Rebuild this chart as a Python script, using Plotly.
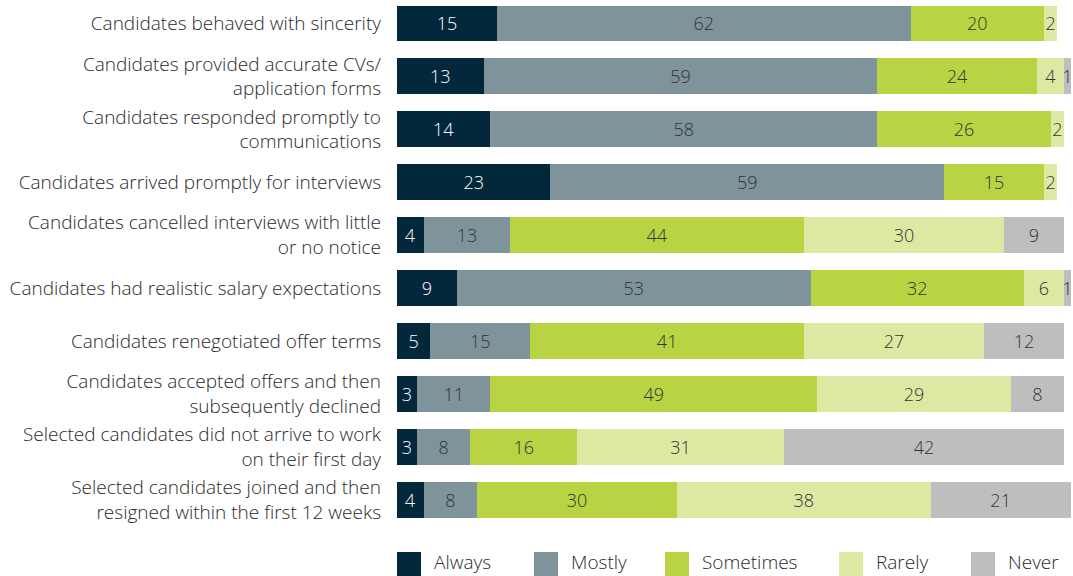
import plotly.graph_objects as go

categories = [
    "Candidates behaved with sincerity",
    "Candidates provided accurate CVs/<br>application forms",
    "Candidates responded promptly to<br>communications",
    "Candidates arrived promptly for interviews",
    "Candidates cancelled interviews with little<br>or no notice",
    "Candidates had realistic salary expectations",
    "Candidates renegotiated offer terms",
    "Candidates accepted offers and then<br>subsequently declined",
    "Selected candidates did not arrive to work<br>on their first day",
    "Selected candidates joined and then<br>resigned within the first 12 weeks",
]

always = [15, 13, 14, 23, 4, 9, 5, 3, 3, 4]
mostly = [62, 59, 58, 59, 13, 53, 15, 11, 8, 8]
sometimes = [20, 24, 26, 15, 44, 32, 41, 49, 16, 30]
rarely = [2, 4, 2, 2, 30, 6, 27, 29, 31, 38]
never = [0, 1, 0, 0, 9, 1, 12, 8, 42, 21]

series_names = ["Always", "Mostly", "Sometimes", "Rarely", "Never"]
series_vals = [always, mostly, sometimes, rarely, never]
colors = ["#03283c", "#7f939b", "#b8d443", "#dde9a3", "#bebebe"]
text_colors = ["#ffffff", "#333333", "#333333", "#333333", "#333333"]

FONT = "Open Sans"
FS = 19
W, H = 1073, 576
ML, MB = 397, 51
PH = H - MB

fig = go.Figure()
for name, vals, col, tcol in zip(series_names, series_vals, colors, text_colors):
    fig.add_trace(go.Bar(
        y=categories, x=vals, name=name, orientation="h",
        marker=dict(color=col, line=dict(width=0)),
        text=[str(v) if v else "" for v in vals],
        textposition="inside", insidetextanchor="middle",
        constraintext="none",
        textfont=dict(color=tcol, size=FS - 1, family=FONT, weight=300),
        hoverinfo="x+name", showlegend=False,
        cliponaxis=False,
    ))

fig.update_layout(
    barmode="stack", bargap=0.32,
    width=W, height=H,
    margin=dict(l=ML, r=0, t=0, b=MB),
    plot_bgcolor="white", paper_bgcolor="white",
    font=dict(family=FONT, size=FS, color="#2a2a2a", weight=300),
    uniformtext=dict(minsize=FS - 1, mode="show"),
)
fig.update_xaxes(range=[0, 101.35], visible=False, fixedrange=True)
fig.update_yaxes(
    categoryorder="array", categoryarray=categories,
    range=[9.48, -0.444], showgrid=False, zeroline=False, showline=False,
    ticks="", ticklabelstandoff=15,
    tickfont=dict(size=FS, color="#2a2a2a", family=FONT, weight=300),
)

# manual legend below the plot
def px_x(x):
    return (x - ML) / (W - ML)

def px_y(y):
    return (PH - y) / PH

legend_pos = [397, 534, 665, 839, 971]
for name, col, lx in zip(series_names, colors, legend_pos):
    fig.add_shape(type="rect", xref="paper", yref="paper",
                  x0=px_x(lx), x1=px_x(lx + 24), y0=px_y(577), y1=px_y(552),
                  fillcolor=col, line=dict(width=0))
    fig.add_annotation(text=name, xref="paper", yref="paper",
                       x=px_x(lx + 35), y=px_y(562), xanchor="left", yanchor="middle",
                       showarrow=False,
                       font=dict(size=FS, color="#2a2a2a", family=FONT, weight=300))

fig.write_html("out.html", config={"displayModeBar": False},
               post_script="document.body.style.margin='0';")
